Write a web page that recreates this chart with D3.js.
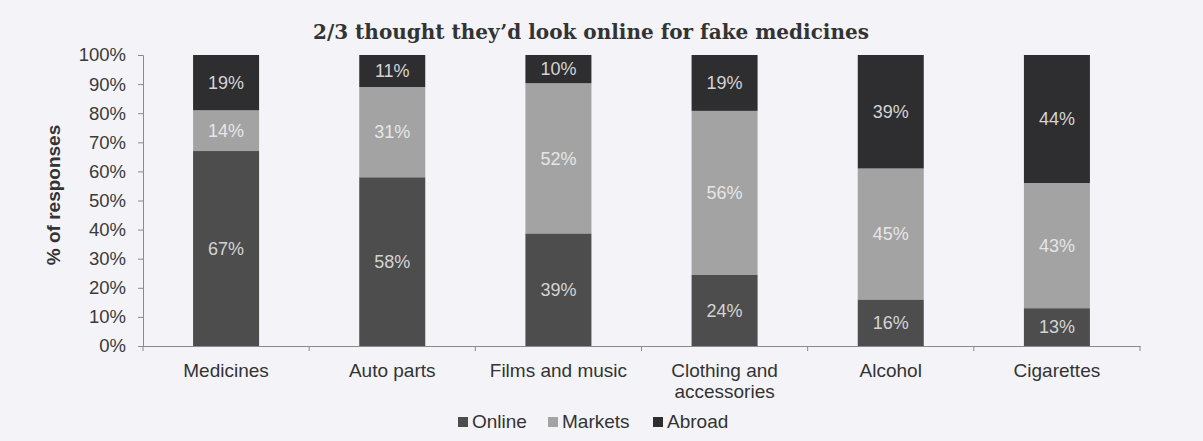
<!DOCTYPE html>
<html>
<head>
<meta charset="utf-8">
<script src="https://cdn.jsdelivr.net/npm/d3@7"></script>
<style>
  body { margin: 0; background: #f3f3f8; }
  svg { display: block; }
</style>
</head>
<body>
<div id="chart"></div>
<script>
// shares (labels shown rounded)
const categories = ["Medicines", "Auto parts", "Films and music", "Clothing and accessories", "Alcohol", "Cigarettes"];
const online = [67, 58, 38.7, 24.4, 16, 13];
const markets = [14, 31, 51.6, 56.4, 45, 43];
const abroad = [19, 11, 9.7, 19.2, 39, 44];
const seriesNames = ["Online", "Markets", "Abroad"];
const yTicks = [0, 10, 20, 30, 40, 50, 60, 70, 80, 90, 100];

const w = 1203, h = 441;
const plotLeft = 143, plotRight = 1140, plotTop = 55, plotBottom = 346;
const barWidth = 66;
const colors = { Online: "#4d4d4d", Markets: "#a3a3a3", Abroad: "#2e2e30" };
const sans = "'Liberation Sans', Arial, sans-serif";

const svg = d3.select("#chart").append("svg")
    .attr("width", w)
    .attr("height", h);

// build rows for the stack
const rows = categories.map((c, i) => ({ cat: c, Online: online[i], Markets: markets[i], Abroad: abroad[i] }));
const stacked = d3.stack().keys(seriesNames)(rows);

const xBand = d3.scaleBand().domain(categories).range([plotLeft, plotRight]);
const yScale = d3.scaleLinear().domain([0, 100]).range([plotBottom, plotTop]);

// title
svg.append("text")
    .attr("x", 591)
    .attr("y", 39)
    .attr("text-anchor", "middle")
    .style("font-family", "'DejaVu Serif', Georgia, serif")
    .style("font-weight", "bold")
    .style("font-size", "20px")
    .attr("fill", "#333")
    .text("2/3 thought they\u2019d look online for fake medicines");

// bars
const groups = svg.selectAll("g.series")
    .data(stacked)
    .enter().append("g")
    .attr("class", "series")
    .attr("fill", d => colors[d.key]);

groups.selectAll("rect")
    .data(d => d)
    .enter().append("rect")
    .attr("x", d => xBand(d.data.cat) + (xBand.bandwidth() - barWidth) / 2)
    .attr("width", barWidth)
    .attr("y", d => yScale(d[1]))
    .attr("height", d => yScale(d[0]) - yScale(d[1]));

// value labels
groups.selectAll("text")
    .data(d => d.map(v => ({ v: v, key: d.key })))
    .enter().append("text")
    .attr("x", d => xBand(d.v.data.cat) + xBand.bandwidth() / 2)
    .attr("y", d => yScale((d.v[0] + d.v[1]) / 2))
    .attr("dy", "0.35em")
    .attr("text-anchor", "middle")
    .style("font-family", sans)
    .style("font-size", "18px")
    .attr("fill", d => d.key === "Markets" ? "#e6e6e6" : "#d4d4d4")
    .text(d => Math.round(d.v[1] - d.v[0]) + "%");

// y axis
const yAxis = d3.axisLeft(yScale).tickValues(yTicks).tickFormat(d => d + "%").tickSize(5).tickPadding(12);
const gy = svg.append("g")
    .attr("transform", "translate(" + plotLeft + ",0)")
    .call(yAxis);
gy.select(".domain").attr("stroke", "#8a8a8a");
gy.selectAll(".tick line").attr("stroke", "#8a8a8a");
gy.selectAll(".tick text")
    .style("font-family", sans)
    .style("font-size", "18.5px")
    .attr("fill", "#3a3a3a");

// x axis
const xAxis = d3.axisBottom(xBand).tickSize(0).tickFormat("");
const gx = svg.append("g")
    .attr("transform", "translate(0," + plotBottom + ")")
    .call(xAxis);
gx.select(".domain").attr("stroke", "#8a8a8a");
// band separators
svg.selectAll("line.sep")
    .data(categories.concat(["end"]))
    .enter().append("line")
    .attr("class", "sep")
    .attr("x1", (d, i) => plotLeft + i * xBand.bandwidth())
    .attr("x2", (d, i) => plotLeft + i * xBand.bandwidth())
    .attr("y1", plotBottom)
    .attr("y2", plotBottom + 5)
    .attr("stroke", "#8a8a8a");

// category labels
const labels = svg.selectAll("text.cat")
    .data(categories)
    .enter().append("text")
    .attr("class", "cat")
    .attr("y", 377)
    .attr("text-anchor", "middle")
    .style("font-family", sans)
    .style("font-size", "19px")
    .attr("fill", "#333");
labels.each(function (d) {
    const el = d3.select(this);
    const lines = d === "Clothing and accessories" ? ["Clothing and", "accessories"] : [d];
    lines.forEach((t, i) => {
        el.append("tspan")
            .attr("x", xBand(d) + xBand.bandwidth() / 2)
            .attr("dy", i === 0 ? 0 : 21)
            .text(t);
    });
});

// y axis title
svg.append("text")
    .attr("transform", "rotate(-90)")
    .attr("x", -195)
    .attr("y", 60)
    .attr("text-anchor", "middle")
    .style("font-family", sans)
    .style("font-weight", "bold")
    .style("font-size", "19px")
    .attr("fill", "#333")
    .text("% of responses");

// legend
const legendX = [458, 548, 653];
const legend = svg.selectAll("g.legend")
    .data(seriesNames)
    .enter().append("g")
    .attr("class", "legend")
    .attr("transform", (d, i) => "translate(" + legendX[i] + ",428)");
legend.append("rect")
    .attr("x", 0)
    .attr("y", -11)
    .attr("width", 10)
    .attr("height", 10)
    .attr("fill", d => colors[d]);
legend.append("text")
    .attr("x", 14)
    .attr("y", 0)
    .style("font-family", sans)
    .style("font-size", "19px")
    .attr("fill", "#333")
    .text(d => d);
</script>
</body>
</html>
